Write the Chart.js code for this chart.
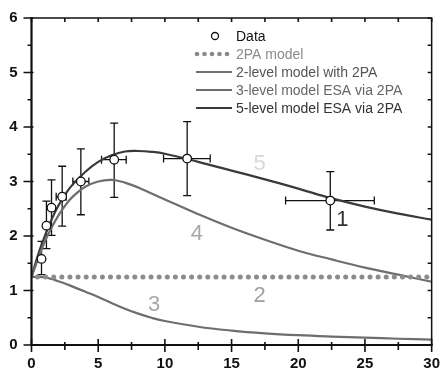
<!DOCTYPE html>
<html><head><meta charset="utf-8">
<script src="https://cdn.jsdelivr.net/npm/chart.js@4"></script>
<style>html,body{margin:0;padding:0;background:#fff}#wrap{width:443px;height:370px}</style>
</head><body><div id="wrap"><canvas id="c"></canvas></div>
<script>
// ---- data ----
const dataX = [0.75, 1.12, 1.5, 2.3, 3.7, 6.2, 11.67, 22.4];
const dataY = [1.58, 2.19, 2.52, 2.72, 3.00, 3.40, 3.42, 2.65];
const errYHigh = [1.90, 2.64, 3.03, 3.28, 3.60, 4.07, 4.10, 3.18];
const errYLow  = [1.29, 1.77, 2.01, 2.18, 2.39, 2.71, 2.74, 2.11];
const errXLow  = [0.75, 1.12, 1.5, 1.85, 3.1, 5.25, 9.9, 19.05];
const errXHigh = [0.75, 1.12, 1.5, 2.6, 4.3, 7.1, 13.4, 25.7];

const model2PAX = [0.45, 30];
const model2PAY = [1.25, 1.25];

const curveX = [0, 0.5, 1, 1.5, 2, 2.5, 3, 4, 5, 6, 7, 8, 9, 10, 12.5, 15, 17.5, 20, 22.5, 25, 27.5, 30];
const level2Y = [1.25, 1.25, 1.24, 1.21, 1.17, 1.13, 1.08, 0.98, 0.88, 0.77, 0.665, 0.575, 0.50, 0.44, 0.335, 0.265, 0.215, 0.18, 0.155, 0.135, 0.115, 0.10];
const level3Y = [1.25, 1.58, 1.90, 2.15, 2.37, 2.55, 2.70, 2.90, 3.00, 3.03, 2.98, 2.89, 2.78, 2.67, 2.40, 2.15, 1.93, 1.73, 1.57, 1.42, 1.29, 1.16];
const level5Y = [1.25, 1.66, 2.00, 2.30, 2.55, 2.75, 2.92, 3.17, 3.36, 3.48, 3.55, 3.56, 3.545, 3.51, 3.36, 3.20, 3.04, 2.87, 2.69, 2.54, 2.41, 2.30];

const legendLabels = ['Data', '2PA model', '2-level model with 2PA', '3-level model ESA via 2PA', '5-level model ESA via 2PA'];
const curveTags = [
  {t:'5', x:17.1, y:3.32, c:'#d8d8d8'},
  {t:'4', x:12.4, y:2.03, c:'#a8a8a8'},
  {t:'3', x:9.2,  y:0.74, c:'#a8a8a8'},
  {t:'2', x:17.1, y:0.90, c:'#a0a0a0'},
  {t:'1', x:23.3, y:2.30, c:'#333333'}
];
const xTicks = [0, 5, 10, 15, 20, 25, 30];
const yTicks = [0, 1, 2, 3, 4, 5, 6];

const pts = (xs, ys) => xs.map((x, i) => ({x, y: ys[i]}));

const decor = {
  id: 'decor',
  beforeDatasetsDraw(chart) {
    const {ctx, scales: {x, y}} = chart;
    ctx.save();
    ctx.strokeStyle = '#111'; ctx.lineWidth = 1.3;
    for (let i = 0; i < dataX.length; i++) {
      const px = x.getPixelForValue(dataX[i]);
      const py = y.getPixelForValue(dataY[i]);
      const t = y.getPixelForValue(errYHigh[i]), b = y.getPixelForValue(errYLow[i]);
      ctx.beginPath();
      ctx.moveTo(px, t); ctx.lineTo(px, b);
      ctx.moveTo(px - 4, t); ctx.lineTo(px + 4, t);
      ctx.moveTo(px - 4, b); ctx.lineTo(px + 4, b);
      if (errXHigh[i] > errXLow[i]) {
        const l = x.getPixelForValue(errXLow[i]), r = x.getPixelForValue(errXHigh[i]);
        ctx.moveTo(l, py); ctx.lineTo(r, py);
        ctx.moveTo(l, py - 4); ctx.lineTo(l, py + 4);
        ctx.moveTo(r, py - 4); ctx.lineTo(r, py + 4);
      }
      ctx.stroke();
    }
    ctx.restore();
  },
  afterDraw(chart) {
    const {ctx, chartArea: a, scales: {x, y}} = chart;
    ctx.save();
    // frame
    ctx.strokeStyle = '#111';
    ctx.lineWidth = 1.5;
    ctx.beginPath();
    ctx.moveTo(a.left, a.top); ctx.lineTo(a.right, a.top); ctx.lineTo(a.right, a.bottom);
    ctx.stroke();
    ctx.lineWidth = 2.2;
    ctx.beginPath();
    ctx.moveTo(a.left, a.top - 1); ctx.lineTo(a.left, a.bottom); ctx.lineTo(a.right + 1, a.bottom);
    ctx.stroke();
    // ticks
    ctx.lineWidth = 1.6;
    ctx.beginPath();
    for (let v = 0; v <= 30.001; v += 2.5) {
      const px = x.getPixelForValue(v);
      const major = Math.abs(v % 5) < 1e-6;
      ctx.moveTo(px, a.bottom - (major ? 6 : 3)); ctx.lineTo(px, a.bottom + (major ? 7 : 5));
      ctx.moveTo(px, a.top); ctx.lineTo(px, a.top + 4);
    }
    for (let v = 0; v <= 6.001; v += 0.5) {
      const py = y.getPixelForValue(v);
      const major = Math.abs(v % 1) < 1e-6;
      ctx.moveTo(a.left - (major ? 8 : 4), py); ctx.lineTo(a.left + (major ? 2 : 0), py);
      ctx.moveTo(a.right, py); ctx.lineTo(a.right - 4, py);
    }
    ctx.stroke();
    // curve tags
    ctx.font = '22px "Liberation Sans", Arial, sans-serif';
    ctx.textAlign = 'center'; ctx.textBaseline = 'middle';
    curveTags.forEach(g => {
      ctx.fillStyle = g.c;
      ctx.fillText(g.t, x.getPixelForValue(g.x), y.getPixelForValue(g.y));
    });
    // legend
    const ly = [36, 54, 72, 90, 108];
    const colors = ['#111', '#8a8a8a', '#555', '#666', '#333'];
    const lx0 = 196, lx1 = 232, tx = 236;
    ctx.font = '14px "Liberation Sans", Arial, sans-serif';
    ctx.textAlign = 'left';
    legendLabels.forEach((lab, i) => {
      const yy = ly[i];
      if (i === 0) {
        ctx.beginPath(); ctx.arc(215, yy, 3.5, 0, Math.PI * 2);
        ctx.fillStyle = '#fff'; ctx.fill();
        ctx.lineWidth = 1.3; ctx.strokeStyle = '#111'; ctx.stroke();
      } else if (i === 1) {
        ctx.fillStyle = '#8a8a8a';
        for (let k = 0; k < 5; k++) { ctx.beginPath(); ctx.arc(197 + k * 7.5, yy, 2.3, 0, Math.PI * 2); ctx.fill(); }
      } else {
        ctx.strokeStyle = i === 4 ? '#3a3a3a' : '#6e6e6e';
        ctx.lineWidth = 2.2;
        ctx.beginPath(); ctx.moveTo(lx0, yy); ctx.lineTo(lx1, yy); ctx.stroke();
      }
      ctx.fillStyle = colors[i];
      ctx.fillText(lab, tx, yy + 1);
    });
    ctx.restore();
  }
};

new Chart(document.getElementById('c'), {
  type: 'scatter',
  data: {
    datasets: [
      {label: legendLabels[0], data: pts(dataX, dataY), showLine: false, pointRadius: 4.3,
        pointBackgroundColor: '#fff', pointBorderColor: '#111', pointBorderWidth: 1.3},
      {label: legendLabels[1], data: pts(model2PAX, model2PAY), showLine: true, pointRadius: 0,
        borderColor: '#8c8c8c', borderWidth: 5, borderDash: [0.01, 8.1], borderCapStyle: 'round'},
      {label: legendLabels[2], data: pts(curveX, level2Y), showLine: true, pointRadius: 0,
        borderColor: '#6e6e6e', borderWidth: 2.2, tension: 0.4},
      {label: legendLabels[3], data: pts(curveX, level3Y), showLine: true, pointRadius: 0,
        borderColor: '#6e6e6e', borderWidth: 2.2, tension: 0.4},
      {label: legendLabels[4], data: pts(curveX, level5Y), showLine: true, pointRadius: 0,
        borderColor: '#3a3a3a', borderWidth: 2.2, tension: 0.4}
    ]
  },
  options: {
    responsive: true, maintainAspectRatio: false, animation: false,
    layout: {padding: {top: 18, right: 9, left: 0, bottom: 0}},
    plugins: {legend: {display: false}, tooltip: {enabled: false}},
    scales: {
      x: {
        type: 'linear', min: 0, max: 30,
        afterFit(s) { s.height = 25; },
        afterBuildTicks(s) { s.ticks = xTicks.map(v => ({value: v})); },
        grid: {display: true, drawOnChartArea: false, drawTicks: true, tickLength: 7, color: 'rgba(0,0,0,0)'},
        border: {display: false},
        ticks: {padding: 3, color: '#111', font: {family: '"Liberation Sans", Arial, sans-serif', size: 15, weight: 'bold'}, maxRotation: 0}
      },
      y: {
        type: 'linear', min: 0, max: 6,
        afterFit(s) { s.width = 31.5; },
        afterBuildTicks(s) { s.ticks = yTicks.map(v => ({value: v})); },
        grid: {display: true, drawOnChartArea: false, drawTicks: true, tickLength: 9, color: 'rgba(0,0,0,0)'},
        border: {display: false},
        ticks: {padding: 5, color: '#111', font: {family: '"Liberation Sans", Arial, sans-serif', size: 15, weight: 'bold'}}
      }
    }
  },
  plugins: [decor]
});
</script></body></html>
